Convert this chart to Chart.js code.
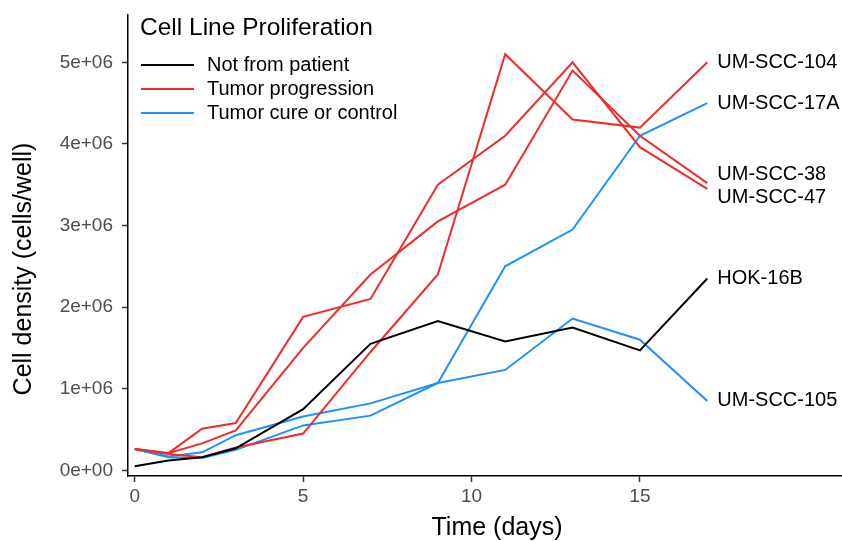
<!DOCTYPE html>
<html>
<head>
<meta charset="utf-8">
<script src="https://cdn.jsdelivr.net/npm/chart.js@4"></script>
<style>
  html, body { margin: 0; padding: 0; background: #fff; }
  #wrap { width: 842px; height: 541px; }
</style>
</head>
<body>
<div id="wrap"><canvas id="chartGrowth"></canvas></div>
<script>
// data (cells/well)
const days = [0, 1, 2, 3, 5, 7, 9, 11, 13, 15, 17];
const hok16b   = [5.0e4, 1.2e5, 1.6e5, 2.7e5, 7.5e5, 1.55e6, 1.83e6, 1.58e6, 1.75e6, 1.47e6, 2.35e6];
const umscc104 = [2.6e5, 2.0e5, 1.6e5, 2.8e5, 4.5e5, 1.45e6, 2.40e6, 5.10e6, 4.30e6, 4.20e6, 5.00e6];
const umscc38  = [2.6e5, 2.1e5, 3.3e5, 4.9e5, 1.50e6, 2.40e6, 3.05e6, 3.50e6, 4.90e6, 4.10e6, 3.52e6];
const umscc47  = [2.6e5, 2.1e5, 5.1e5, 5.8e5, 1.88e6, 2.10e6, 3.50e6, 4.10e6, 5.00e6, 3.96e6, 3.45e6];
const umscc17a = [2.6e5, 1.6e5, 1.5e5, 2.5e5, 5.5e5, 6.7e5, 1.07e6, 2.50e6, 2.95e6, 4.10e6, 4.50e6];
const umscc105 = [2.6e5, 1.7e5, 2.2e5, 4.3e5, 6.6e5, 8.2e5, 1.07e6, 1.23e6, 1.86e6, 1.60e6, 8.5e5];

const cellLines = ['HOK-16B', 'UM-SCC-104', 'UM-SCC-38', 'UM-SCC-47', 'UM-SCC-17A', 'UM-SCC-105'];
const lineValues = [hok16b, umscc104, umscc38, umscc47, umscc17a, umscc105];
const lineGroup = [0, 1, 1, 1, 2, 2];
const groups = ['Not from patient', 'Tumor progression', 'Tumor cure or control'];
const groupColors = ['#000000', '#EE2C2C', '#1E90FF'];
const xTicks = [0, 5, 10, 15];
const yTicks = [0, 1e6, 2e6, 3e6, 4e6, 5e6];

const FONT = "'Liberation Sans', Arial, sans-serif";

function sci(v) {
  if (v === 0) return '0e+00';
  const e = Math.floor(Math.log10(v));
  const m = Math.round(v / Math.pow(10, e));
  return m + 'e+' + String(e).padStart(2, '0');
}

const datasets = cellLines.map((name, i) => ({
  label: name,
  data: days.map((d, j) => ({ x: d, y: lineValues[i][j] })),
  borderColor: groupColors[lineGroup[i]],
  backgroundColor: groupColors[lineGroup[i]],
  borderWidth: 2,
  pointRadius: 0,
  tension: 0,
  fill: false
}));

// axis titles, legend and direct labels at the end of each line
const annotate = {
  id: 'annotate',
  afterDraw(chart) {
    const ctx = chart.ctx;
    const xs = chart.scales.x, ys = chart.scales.y;
    ctx.save();
    ctx.fillStyle = '#000';
    ctx.textBaseline = 'middle';

    // axis titles
    ctx.font = '25px ' + FONT;
    ctx.textAlign = 'center';
    ctx.fillText('Time (days)', 497, 528);
    ctx.save();
    ctx.translate(24, 269);
    ctx.rotate(-Math.PI / 2);
    ctx.fillText('Cell density (cells/well)', 0, 0);
    ctx.restore();

    // legend
    ctx.textAlign = 'left';
    ctx.font = '24.5px ' + FONT;
    ctx.fillText('Cell Line Proliferation', 140, 28);
    ctx.font = '20px ' + FONT;
    groups.forEach((g, i) => {
      const y = 65 + i * 24;
      ctx.strokeStyle = groupColors[i];
      ctx.lineWidth = 2;
      ctx.beginPath();
      ctx.moveTo(141, y);
      ctx.lineTo(194, y);
      ctx.stroke();
      ctx.fillStyle = '#000';
      ctx.fillText(g, 207, y);
    });

    // end labels, pushed apart so they do not overlap
    const last = days.length - 1;
    const items = cellLines.map((name, i) => ({
      name,
      x: xs.getPixelForValue(days[last]) + 10,
      y: ys.getPixelForValue(lineValues[i][last])
    })).sort((a, b) => a.y - b.y);
    const gap = 23;
    for (let it = 0; it < 20; it++) {
      for (let k = 1; k < items.length; k++) {
        const d = items[k].y - items[k - 1].y;
        if (d < gap) {
          const push = (gap - d) / 2;
          items[k].y += push;
          items[k - 1].y -= push;
        }
      }
    }
    ctx.font = '20px ' + FONT;
    items.forEach(it => ctx.fillText(it.name, it.x, it.y));
    ctx.restore();
  }
};

const ctx = document.getElementById('chartGrowth').getContext('2d');
window.growthChart = new Chart(ctx, {
  type: 'line',
  data: { datasets: datasets },
  options: {
    responsive: true,
    maintainAspectRatio: false,
    animation: false,
    layout: { padding: { top: 15, right: 0, left: 0, bottom: 0 } },
    plugins: {
      legend: { display: false },
      tooltip: { enabled: false }
    },
    scales: {
      x: {
        type: 'linear',
        min: -0.2,
        max: 21,
        afterBuildTicks: s => { s.ticks = xTicks.map(v => ({ value: v })); },
        afterFit: s => { s.height = 65; s.paddingLeft = 0; s.paddingRight = 0; },
        grid: { drawOnChartArea: false, tickLength: 6, tickWidth: 1.5, color: '#333' },
        border: { display: true, color: '#000', width: 1.5 },
        ticks: { color: '#4d4d4d', font: { size: 19, family: FONT }, padding: 3 },
        title: { display: false }
      },
      y: {
        type: 'linear',
        min: -0.07e6,
        max: 5.58e6,
        afterBuildTicks: s => { s.ticks = yTicks.map(v => ({ value: v })); },
        afterFit: s => { s.width = 128; s.paddingTop = 0; s.paddingBottom = 0; },
        grid: { drawOnChartArea: false, tickLength: 6, tickWidth: 1.5, color: '#333' },
        border: { display: true, color: '#000', width: 1.5 },
        ticks: { color: '#4d4d4d', font: { size: 19, family: FONT }, padding: 9, callback: v => sci(v) },
        title: { display: false }
      }
    }
  },
  plugins: [annotate]
});
</script>
</body>
</html>
